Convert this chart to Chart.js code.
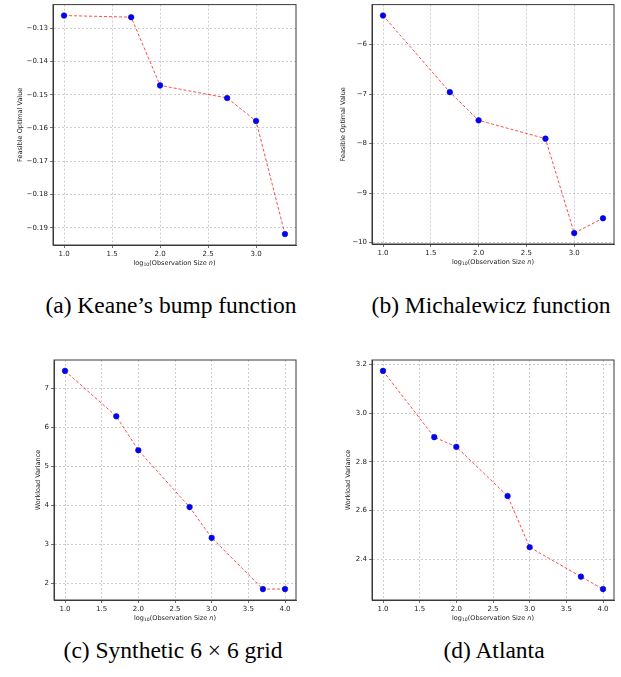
<!DOCTYPE html>
<html>
<head>
<meta charset="utf-8">
<title>Feasible optimal value / workload variance vs observation size</title>
<script src="https://cdn.jsdelivr.net/npm/chart.js@4.4.0/dist/chart.umd.min.js"></script>
<style>
  body{margin:0;background:#fff;width:621px;height:677px;position:relative;overflow:hidden}
  .panel{position:absolute}
  .cap{position:absolute;font-family:"Liberation Serif","Times New Roman",serif;font-size:23.5px;line-height:26px;color:#000;white-space:nowrap;transform:translateX(-50%)}
</style>
</head>
<body>
<div class="panel" style="left:0;top:0"><canvas id="cA" width="310" height="275"></canvas></div>
<div class="panel" style="left:310px;top:0"><canvas id="cB" width="311" height="275"></canvas></div>
<div class="panel" style="left:0;top:330px"><canvas id="cC" width="310" height="300"></canvas></div>
<div class="panel" style="left:310px;top:330px"><canvas id="cD" width="311" height="300"></canvas></div>

<div class="cap" style="left:171px;top:292px">(a) Keane’s bump function</div>
<div class="cap" style="left:491px;top:292px">(b) Michalewicz function</div>
<div class="cap" style="left:173px;top:637px">(c) Synthetic 6 × 6 grid</div>
<div class="cap" style="left:494px;top:637px">(d) Atlanta</div>

<script>
// log10 of observation sizes
const logN6 = [1, 1.699, 2, 2.699, 3, 3.301];
const logN7 = [1, 1.699, 2, 2.699, 3, 3.699, 4];

const keaneVals = [-0.1262, -0.1267, -0.1472, -0.1510, -0.1579, -0.1919];
const michVals = [-5.41, -6.96, -7.53, -7.90, -9.81, -9.51];
const synthVals = [7.455, 6.29, 5.42, 3.96, 3.17, 1.855, 1.855];
const atlantaVals = [3.174, 2.902, 2.862, 2.660, 2.450, 2.329, 2.278];

const xTicksShort = [1.0, 1.5, 2.0, 2.5, 3.0];
const xTicksLong = [1.0, 1.5, 2.0, 2.5, 3.0, 3.5, 4.0];
const yTicksKeane = [-0.19, -0.18, -0.17, -0.16, -0.15, -0.14, -0.13];
const yTicksMich = [-10, -9, -8, -7, -6];
const yTicksSynth = [2, 3, 4, 5, 6, 7];
const yTicksAtlanta = [2.4, 2.6, 2.8, 3.0, 3.2];

const FONT = '"DejaVu Sans", sans-serif';

// matplotlib-like 5% margins
function padRange(arr) {
  var lo = Math.min.apply(null, arr), hi = Math.max.apply(null, arr);
  var m = (hi - lo) * 0.05;
  return [lo - m, hi + m];
}

function minus(s) { return s.replace('-', '\u2212'); }

// frame around plot + axis titles (x title has a subscript and italic n)
const framePlugin = {
  id: 'frame',
  afterDraw(chart, args, opts) {
    const ctx = chart.ctx, a = chart.chartArea;
    ctx.save();
    ctx.strokeStyle = '#3a3a3a';
    ctx.lineWidth = 1;
    ctx.strokeRect(a.left, a.top, a.right - a.left, a.bottom - a.top);

    ctx.fillStyle = '#222';
    ctx.textBaseline = 'middle';

    // x title
    var parts = [
      {t: 'log', f: '6.5px ' + FONT, dy: 0},
      {t: '10', f: '4.6px ' + FONT, dy: 1.8},
      {t: '(Observation Size ', f: '6.5px ' + FONT, dy: 0},
      {t: 'n', f: 'italic 6.5px ' + FONT, dy: 0},
      {t: ')', f: '6.5px ' + FONT, dy: 0}
    ];
    var total = 0;
    parts.forEach(function (p) { ctx.font = p.f; p.w = ctx.measureText(p.t).width; total += p.w; });
    var x = (a.left + a.right) / 2 - total / 2, y = a.bottom + opts.xTitleGap;
    ctx.textAlign = 'left';
    parts.forEach(function (p) { ctx.font = p.f; ctx.fillText(p.t, x, y + p.dy); x += p.w; });

    // y title
    ctx.font = '6.5px ' + FONT;
    ctx.textAlign = 'center';
    ctx.translate(a.left - opts.yTitleGap, (a.top + a.bottom) / 2);
    ctx.rotate(-Math.PI / 2);
    ctx.fillText(opts.yTitle, 0, 0);
    ctx.restore();
  }
};

function makePanel(id, xs, ys, xTicks, yTicks, fmt, yTitle, g) {
  var xr = padRange(xs), yr = padRange(ys);
  var pts = xs.map(function (x, i) { return {x: x, y: ys[i]}; });
  new Chart(document.getElementById(id), {
    type: 'line',
    data: {
      datasets: [{
        data: pts,
        borderColor: '#ff2020',
        borderWidth: 0.8,
        borderDash: [3, 2],
        pointRadius: 2.8,
        pointBackgroundColor: '#0000ff',
        pointBorderColor: '#1010c0',
        pointBorderWidth: 0.6,
        tension: 0
      }]
    },
    options: {
      responsive: false,
      animation: false,
      layout: {padding: {left: 0, top: g.top, right: g.right, bottom: 0}},
      plugins: {
        legend: {display: false},
        tooltip: {enabled: false},
        frame: {yTitle: yTitle, yTitleGap: g.yTitleGap, xTitleGap: 18}
      },
      scales: {
        x: {
          type: 'linear',
          min: xr[0], max: xr[1],
          afterBuildTicks: function (s) { s.ticks = xTicks.map(function (v) { return {value: v}; }); },
          afterFit: function (s) { s.height = g.xh; s.paddingLeft = 0; s.paddingRight = 0; },
          ticks: {
            font: {family: FONT, size: 7}, color: '#222', padding: 2, maxRotation: 0,
            callback: function (v) { return v.toFixed(1); }
          },
          grid: {color: '#b8b8b8', lineWidth: 0.7, tickColor: '#333', tickLength: 3, tickBorderDash: []},
          border: {color: '#3a3a3a', width: 1, dash: [2, 2]}
        },
        y: {
          type: 'linear',
          min: yr[0], max: yr[1],
          afterBuildTicks: function (s) { s.ticks = yTicks.map(function (v) { return {value: v}; }); },
          afterFit: function (s) { s.width = g.left; s.paddingTop = 0; s.paddingBottom = 0; },
          ticks: {
            font: {family: FONT, size: 7}, color: '#222', padding: 2,
            callback: function (v) { return minus(fmt(v)); }
          },
          grid: {color: '#b8b8b8', lineWidth: 0.7, tickColor: '#333', tickLength: 3, tickBorderDash: []},
          border: {color: '#3a3a3a', width: 1, dash: [2, 2]}
        }
      }
    },
    plugins: [framePlugin]
  });
}

makePanel('cA', logN6, keaneVals, xTicksShort, yTicksKeane,
  function (v) { return v.toFixed(2); }, 'Feasible Optimal Value',
  {left: 53, top: 3, right: 14, xh: 30, yTitleGap: 33});
makePanel('cB', logN6, michVals, xTicksShort, yTicksMich,
  function (v) { return v.toFixed(0); }, 'Feasible Optimal Value',
  {left: 62, top: 3, right: 7, xh: 31, yTitleGap: 29});
makePanel('cC', logN7, synthVals, xTicksLong, yTicksSynth,
  function (v) { return v.toFixed(0); }, 'Workload Variance',
  {left: 54, top: 30, right: 14, xh: 30, yTitleGap: 16});
makePanel('cD', logN7, atlantaVals, xTicksLong, yTicksAtlanta,
  function (v) { return v.toFixed(1); }, 'Workload Variance',
  {left: 62, top: 30, right: 7, xh: 30, yTitleGap: 24});
</script>
</body>
</html>
